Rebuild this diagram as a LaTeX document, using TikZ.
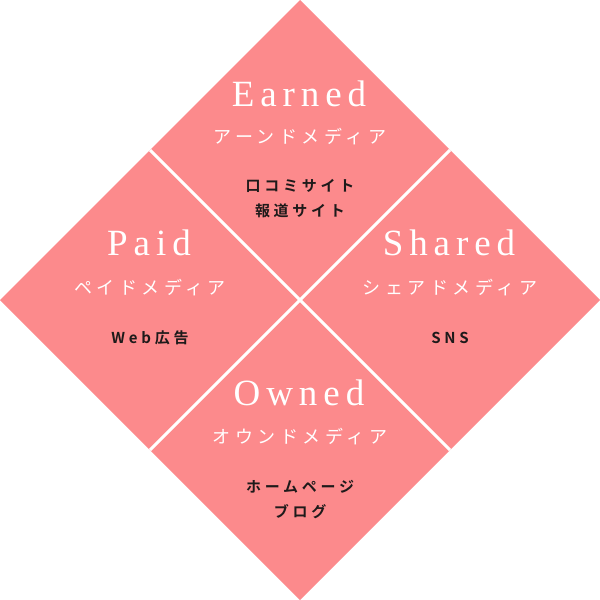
\documentclass[tikz,border=0pt]{standalone}
\usepackage{fontspec}
\setmainfont{Liberation Serif}
\newfontfamily\titlefont[LetterSpace=16]{Liberation Serif}
\newfontfamily\jpfont[LetterSpace=25]{Noto Sans CJK JP}
\newfontfamily\jpbold[LetterSpace=25]{Noto Sans CJK JP Bold}
\definecolor{quadpink}{HTML}{FC8A8C}
\definecolor{inktext}{HTML}{1E1A1A}
\tikzset{
  title/.style={text=white, font=\titlefont\fontsize{37}{37}\selectfont, inner sep=0pt},
  subtitle/.style={text=white, font=\jpfont\fontsize{18}{18}\selectfont, inner sep=0pt},
  items/.style={text=inktext, font=\jpbold\fontsize{15}{25}\selectfont, align=center, inner sep=0pt},
  divider/.style={white, line width=3pt}
}
\begin{document}
\begin{tikzpicture}[x=1pt, y=-1pt]
    \useasboundingbox (0,0) rectangle (600,600);

    % Corners of the big diamond
    \coordinate (top) at (300,0);
    \coordinate (left) at (0,300);
    \coordinate (right) at (600,300);
    \coordinate (bottom) at (300,600);
    \coordinate (tl) at (150,150);
    \coordinate (tr) at (450,150);
    \coordinate (bl) at (150,450);
    \coordinate (br) at (450,450);

    % Diamond
    \fill[quadpink] (top) -- (right) -- (bottom) -- (left) -- cycle;

    % Dividers
    \draw[divider] (tl) -- (br);
    \draw[divider] (tr) -- (bl);

    % Earned
    \node[title] (earned) at (299,94) {Earned};
    \node[subtitle] (earnedsub) at (300,137) {アーンドメディア};
    \node[items] (earneditems) at (300,199) {口コミサイト\\報道サイト};

    % Paid
    \node[title] (paid) at (149,243) {Paid};
    \node[subtitle] (paidsub) at (150,288) {ペイドメディア};
    \node[items] (paiditems) at (150,338) {Web広告};

    % Shared
    \node[title] (shared) at (449,243) {Shared};
    \node[subtitle] (sharedsub) at (450,288) {シェアドメディア};
    \node[items] (shareditems) at (450,338) {SNS};

    % Owned
    \node[title] (owned) at (299,393) {Owned};
    \node[subtitle] (ownedsub) at (300,437) {オウンドメディア};
    \node[items] (owneditems) at (300,500) {ホームページ\\ブログ};
\end{tikzpicture}
\end{document}
